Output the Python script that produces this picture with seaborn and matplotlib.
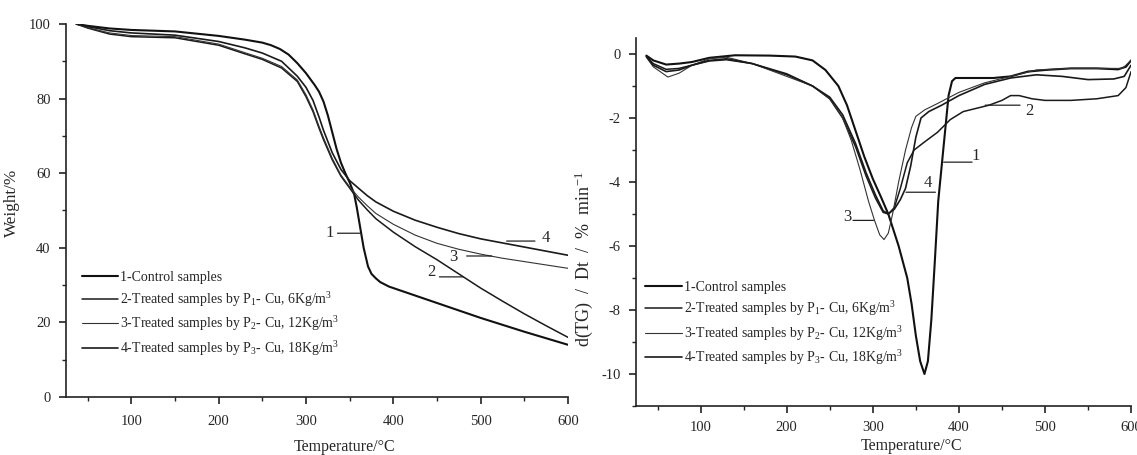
import numpy as np
import pandas as pd
import matplotlib
matplotlib.use("Agg")
import matplotlib.pyplot as plt
from matplotlib.ticker import MultipleLocator
import seaborn as sns

# ---------------- data ----------------
labels = ["1-Control samples",
          r"2-Treated samples by P$_{1}$- Cu, 6Kg/m$^{3}$",
          r"3-Treated samples by P$_{2}$- Cu, 12Kg/m$^{3}$",
          r"4-Treated samples by P$_{3}$- Cu, 18Kg/m$^{3}$"]

# TG (left)
tg1_T = [37, 50, 75, 100, 150, 200, 230, 250, 260, 270, 280, 290, 300, 310, 315, 320, 325, 330, 335, 340, 345,
         350, 355, 358, 362, 366, 371, 375, 380, 385, 395, 400, 450, 500, 550, 600]
tg1_W = [100, 99.5, 98.8, 98.4, 98.0, 96.8, 95.8, 95.0, 94.3, 93.3, 91.8, 89.5, 86.8, 83.6, 81.8, 79.2, 75.5, 71,
         66.5, 62.8, 60, 57.5, 54.5, 51, 45.5, 40, 35, 33, 31.8, 30.8, 29.6, 29.2, 25.2, 21.2, 17.5, 14]
tg_T = [37, 50, 75, 100, 150, 200, 230, 250, 272, 290, 300, 308, 315, 320, 330, 340, 350, 360, 370, 380,
        400, 425, 450, 475, 500, 525, 550, 575, 600]
tg2_W = [100, 98.9, 97.3, 96.6, 96.3, 94.3, 92, 90.5, 88.2, 84.6, 80.5, 76.5, 72, 69, 63.6, 59.2, 56, 52.8, 50.2, 47.8,
         44.2, 40.3, 36.8, 33, 29.2, 25.7, 22.3, 19.1, 16]
tg3_W = [100, 99, 97.6, 96.9, 96.6, 94.6, 92.3, 90.8, 88.6, 85, 81, 77, 72.5, 69.5, 64, 59.5, 56.3, 53.6, 51.3, 49.2,
         46.3, 43.4, 41.2, 39.6, 38.3, 37.2, 36.3, 35.4, 34.5]
tg4_W = [100, 99.3, 98.2, 97.6, 97.0, 95.3, 93.6, 92.2, 90, 86, 83, 79.5, 75, 71.5, 65.5, 61, 58, 56, 54, 52.3,
         49.8, 47.4, 45.5, 43.8, 42.4, 41.3, 40.2, 39.1, 38]

# DTG (right)
d1_T = [37, 45, 60, 75, 90, 110, 140, 180, 210, 230, 245, 260, 270, 280, 290, 300, 310, 318, 330, 340, 345, 350,
        355, 360, 364, 368, 372, 376, 380, 384, 388, 392, 396, 420, 440, 460, 480, 500, 530, 560, 585, 594, 600]
d1_D = [-0.05, -0.2, -0.33, -0.3, -0.25, -0.12, -0.04, -0.05, -0.08, -0.2, -0.5, -1.0, -1.6, -2.4, -3.2, -3.9, -4.5,
        -5.0, -6.0, -7.0, -7.8, -8.8, -9.6, -10.0, -9.6, -8.3, -6.5, -4.6, -3.5, -2.4, -1.3, -0.85, -0.75, -0.75,
        -0.75, -0.7, -0.55, -0.5, -0.45, -0.45, -0.48, -0.4, -0.2]
d2_T = [37, 45, 60, 75, 90, 110, 130, 160, 200, 230, 250, 265, 280, 292, 303, 312, 318, 325, 332, 340, 348, 360,
        375, 390, 405, 420, 435, 450, 460, 470, 485, 500, 530, 560, 585, 594, 600]
d2_D = [-0.08, -0.3, -0.48, -0.45, -0.35, -0.22, -0.18, -0.3, -0.65, -1.0, -1.4, -2.0, -2.9, -3.8, -4.5, -4.95, -5.0,
        -4.8, -4.2, -3.4, -3.0, -2.75, -2.45, -2.05, -1.8, -1.7, -1.6, -1.45, -1.3, -1.3, -1.4, -1.45, -1.45, -1.4,
        -1.3, -1.05, -0.55]
d3_T = [37, 45, 62, 75, 90, 110, 130, 160, 200, 230, 250, 265, 275, 285, 295, 302, 308, 313, 318, 323, 330, 338,
        345, 350, 360, 375, 400, 430, 460, 490, 530, 570, 590, 600]
d3_D = [-0.1, -0.4, -0.72, -0.6, -0.35, -0.15, -0.1, -0.3, -0.7, -1.0, -1.4, -2.0, -2.7, -3.6, -4.6, -5.2, -5.65,
        -5.8, -5.6, -5.0, -4.0, -3.0, -2.3, -1.95, -1.75, -1.55, -1.2, -0.9, -0.7, -0.5, -0.45, -0.45, -0.45, -0.2]
d4_T = [37, 45, 60, 75, 90, 110, 130, 160, 200, 230, 250, 265, 280, 292, 303, 312, 318, 325, 332, 338, 344, 350,
        356, 365, 380, 400, 430, 460, 490, 520, 550, 580, 592, 600]
d4_D = [-0.08, -0.35, -0.55, -0.5, -0.35, -0.2, -0.15, -0.3, -0.62, -1.0, -1.35, -1.9, -2.8, -3.7, -4.4, -4.9, -5.0,
        -4.85, -4.55, -4.2, -3.5, -2.6, -2.0, -1.8, -1.6, -1.3, -0.95, -0.75, -0.65, -0.7, -0.8, -0.78, -0.7, -0.35]

# curve tags: text position and leader-line endpoints (data units)
tg_tags = ["1", "2", "3", "4"]
tg_tag_xy = [(327, 43.9), (444, 33.6), (468.6, 37.6), (574.8, 42.5)]
tg_lead_x = [(336, 362), (452.8, 480.3), (484, 512.6), (529.8, 562.2)]
tg_lead_y = [43.9, 32.2, 37.8, 41.8]

dtg_tags = ["1", "2", "3", "4"]
dtg_tag_xy = [(420, -3.2), (481.7, -1.77), (270.7, -5.09), (363.7, -4.02)]
dtg_lead_x = [(382.3, 415.3), (430.5, 471), (277, 301), (338.6, 372.7)]
dtg_lead_y = [-3.38, -1.6, -5.2, -4.32]

# ---------------- style ----------------
sns.set_theme(style="ticks")
plt.rcParams["font.family"] = ["Liberation Serif", "DejaVu Serif"]
plt.rcParams["mathtext.fontset"] = "custom"
plt.rcParams["mathtext.rm"] = "Liberation Serif"
plt.rcParams["mathtext.default"] = "regular"
plt.rcParams["axes.unicode_minus"] = False

fig = plt.figure(figsize=(11.37, 4.55), dpi=100)
fig.patch.set_facecolor("white")
axL = fig.add_axes([0.058, 0.1275, 0.4415, 0.8198])
axR = fig.add_axes([0.5594, 0.1077, 0.4354, 0.8088])

widths = [1.5, 1.1, 0.8, 1.2]
colors = ["#111111", "#1a1a1a", "#333333", "#1a1a1a"]

tg_series = [(tg1_T, tg1_W), (tg_T, tg2_W), (tg_T, tg3_W), (tg_T, tg4_W)]
dtg_series = [(d1_T, d1_D), (d2_T, d2_D), (d3_T, d3_D), (d4_T, d4_D)]

for ax, series in ((axL, tg_series), (axR, dtg_series)):
    for (x, y), lab, lw, c in zip(series, labels, widths, colors):
        df = pd.DataFrame({"x": x, "y": y})
        sns.lineplot(data=df, x="x", y="y", ax=ax, sort=False, estimator=None,
                     color=c, lw=lw, label=lab)

def style_axis(ax, ylim, ymaj, ymin, xpad):
    ax.set_xlim(25, 600)
    ax.set_ylim(*ylim)
    ax.xaxis.set_major_locator(MultipleLocator(100))
    ax.xaxis.set_minor_locator(MultipleLocator(50))
    ax.yaxis.set_major_locator(MultipleLocator(ymaj))
    ax.yaxis.set_minor_locator(MultipleLocator(ymin))
    ax.set_xticks([100, 200, 300, 400, 500, 600])
    sns.despine(ax=ax)
    for s in ("left", "bottom"):
        ax.spines[s].set_linewidth(1.2)
        ax.spines[s].set_color("#222222")
    ax.tick_params(which="major", direction="out", length=5, width=1.2, labelsize=10.5,
                   pad=6, color="#222222")
    ax.tick_params(axis="x", which="major", pad=xpad)
    ax.tick_params(which="minor", direction="out", length=3, width=1.0, color="#222222")
    ax.set_xlabel("Temperature/\u00b0C", fontsize=11.5)
    ax.set_facecolor("white")

style_axis(axL, (0, 100), 20, 10, 8)
style_axis(axR, (-11, 0.5), 2, 1, 6)
axL.set_yticks([0, 20, 40, 60, 80, 100])
axR.set_yticks([0, -2, -4, -6, -8, -10])
axL.set_ylabel("Weight/%", fontsize=12.3)
axR.set_ylabel(r"d(TG)  /  Dt  /  %  min$^{-1}$", fontsize=13)
axL.yaxis.set_label_coords(-0.092, 0.52)
axR.yaxis.set_label_coords(-0.083, 0.40)
axL.xaxis.set_label_coords(0.554, -0.112)
axR.xaxis.set_label_coords(0.556, -0.088)

for ax, tags, txy, lx, ly in ((axL, tg_tags, tg_tag_xy, tg_lead_x, tg_lead_y),
                              (axR, dtg_tags, dtg_tag_xy, dtg_lead_x, dtg_lead_y)):
    for t, (tx, ty), (x0, x1), yy in zip(tags, txy, lx, ly):
        ax.text(tx, ty, t, ha="center", va="center", fontsize=12)
        ax.annotate("", xy=(x0, yy), xytext=(x1, yy),
                    arrowprops=dict(arrowstyle="-", lw=0.9, color="#222222",
                                    shrinkA=0, shrinkB=0))

legL = axL.legend(loc="upper left", bbox_to_anchor=(0.031, 0.337), frameon=False,
                  fontsize=10, handlelength=2.6, handletextpad=0.15, labelspacing=0.4,
                  borderpad=0, borderaxespad=0)
legR = axR.legend(loc="upper left", bbox_to_anchor=(0.019, 0.34), frameon=False,
                  fontsize=10, handlelength=2.6, handletextpad=0.15, labelspacing=0.4,
                  borderpad=0, borderaxespad=0)

fig.savefig("out.png", dpi=100, facecolor="white")
